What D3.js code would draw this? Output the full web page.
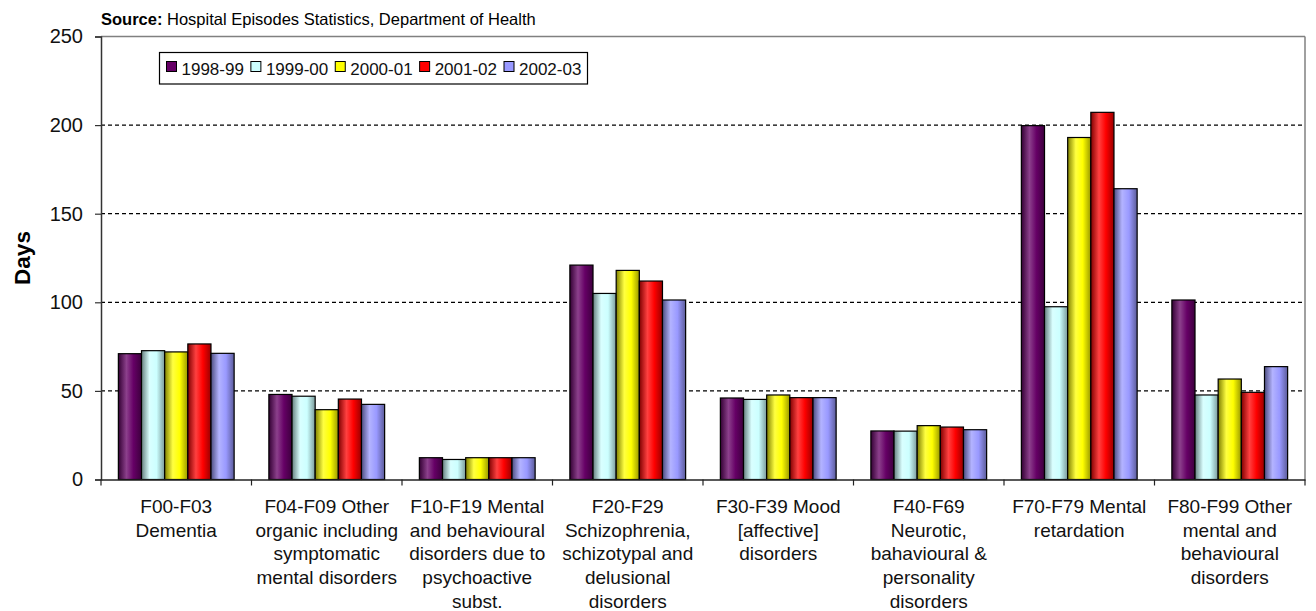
<!DOCTYPE html>
<html>
<head>
<meta charset="utf-8">
<script src="https://cdn.jsdelivr.net/npm/d3@7"></script>
<style>
  html, body { margin: 0; padding: 0; background: #fff; }
  svg { display: block; font-family: "Liberation Sans", Arial, sans-serif; }
</style>
</head>
<body>
<svg id="chart" width="1316" height="611"></svg>
<script>
// ---------- DATA ----------
const categories = [
  "F00-F03 Dementia",
  "F04-F09 Other organic including symptomatic mental disorders",
  "F10-F19 Mental and behavioural disorders due to psychoactive subst.",
  "F20-F29 Schizophrenia, schizotypal and delusional disorders",
  "F30-F39 Mood [affective] disorders",
  "F40-F69 Neurotic, bahavioural & personality disorders",
  "F70-F79 Mental retardation",
  "F80-F99 Other mental and behavioural disorders"
];
const categoryLines = [
  ["F00-F03", "Dementia"],
  ["F04-F09 Other", "organic including", "symptomatic", "mental disorders"],
  ["F10-F19 Mental", "and behavioural", "disorders due to", "psychoactive", "subst."],
  ["F20-F29", "Schizophrenia,", "schizotypal and", "delusional", "disorders"],
  ["F30-F39 Mood", "[affective]", "disorders"],
  ["F40-F69", "Neurotic,", "bahavioural &", "personality", "disorders"],
  ["F70-F79 Mental", "retardation"],
  ["F80-F99 Other", "mental and", "behavioural", "disorders"]
];
const seriesNames = ["1998-99", "1999-00", "2000-01", "2001-02", "2002-03"];
const values1998_99 = [71, 48, 12.3, 121, 46, 27.4, 199.7, 101.3];
const values1999_00 = [72.7, 47, 11.3, 105, 45.2, 27.3, 97.5, 47.7];
const values2000_01 = [72, 39.4, 12.3, 118, 47.7, 30.4, 193, 56.7];
const values2001_02 = [76.5, 45.4, 12.3, 112, 46.2, 29.6, 207.2, 49.2];
const values2002_03 = [71.2, 42.4, 12.3, 101.3, 46.2, 28.1, 164.1, 63.7];
const seriesValues = [values1998_99, values1999_00, values2000_01, values2001_02, values2002_03];
const seriesColors = ["#660066", "#CCFFFF", "#FFFF00", "#FF0000", "#9999FF"];
const yTicks = [0, 50, 100, 150, 200, 250];
const yTitle = "Days";
const sourceBold = "Source:";
const sourceText = " Hospital Episodes Statistics, Department of Health";

// ---------- LAYOUT ----------
const svg = d3.select("#chart");
const pLeft = 101, pRight = 1305, pTop = 36.5, pBottom = 479.5;

const x = d3.scaleBand().domain(categories).range([pLeft, pRight]).paddingInner(0).paddingOuter(0);
const bw = x.bandwidth();
const barW = bw / 6.5;
const xs = d3.scaleBand().domain(seriesNames)
  .range([(bw - 5 * barW) / 2, (bw + 5 * barW) / 2]).padding(0);
const y = d3.scaleLinear().domain([0, 250]).range([pBottom, pTop]);

// gradients
const defs = svg.append("defs");
seriesColors.forEach((c, i) => {
  const base = d3.rgb(c);
  const g = defs.append("linearGradient").attr("id", "grad" + i)
    .attr("x1", "0%").attr("x2", "100%").attr("y1", "0%").attr("y2", "0%");
  const dark = d3.rgb(base.r * 0.5, base.g * 0.5, base.b * 0.5);
  const dark2 = d3.rgb(base.r * 0.6, base.g * 0.6, base.b * 0.6);
  const light = d3.interpolateRgb(c, "#ffffff")(0.25);
  g.append("stop").attr("offset", "0%").attr("stop-color", dark);
  g.append("stop").attr("offset", "35%").attr("stop-color", light);
  g.append("stop").attr("offset", "65%").attr("stop-color", c);
  g.append("stop").attr("offset", "100%").attr("stop-color", dark2);
});

// plot border (top & right, gray)
svg.append("line").attr("x1", pLeft).attr("x2", pRight).attr("y1", pTop).attr("y2", pTop)
  .attr("stroke", "#808080").attr("stroke-width", 1.5);
svg.append("line").attr("x1", pRight).attr("x2", pRight).attr("y1", pTop).attr("y2", pBottom)
  .attr("stroke", "#808080").attr("stroke-width", 1.5);

// gridlines
svg.append("g").selectAll("line")
  .data(yTicks.filter(t => t > 0 && t < 250))
  .join("line")
  .attr("x1", pLeft).attr("x2", pRight)
  .attr("y1", d => y(d)).attr("y2", d => y(d))
  .attr("stroke", "#000").attr("stroke-width", 1.2)
  .attr("stroke-dasharray", "4,3");

// bars
const barG = svg.append("g");
seriesNames.forEach((s, si) => {
  barG.append("g").selectAll("rect")
    .data(seriesValues[si])
    .join("rect")
    .attr("x", (d, i) => x(categories[i]) + xs(s))
    .attr("y", d => y(d))
    .attr("width", xs.bandwidth())
    .attr("height", d => y(0) - y(d))
    .attr("fill", `url(#grad${si})`)
    .attr("stroke", "#000").attr("stroke-width", 1.2);
});

// y axis
const yAxis = d3.axisLeft(y).tickValues(yTicks).tickSize(6).tickPadding(12);
const yg = svg.append("g").attr("transform", `translate(${pLeft},0)`).call(yAxis);
yg.select(".domain").attr("stroke", "#333").attr("stroke-width", 1.5);
yg.selectAll(".tick line").attr("stroke", "#333").attr("stroke-width", 1.2);
yg.selectAll(".tick text").attr("font-size", "20px").attr("fill", "#111")
  .attr("font-family", "Liberation Sans, Arial, sans-serif");

// x axis
const xAxis = d3.axisBottom(x).tickSize(0).tickFormat(() => "");
const xg = svg.append("g").attr("transform", `translate(0,${pBottom})`).call(xAxis);
xg.select(".domain").attr("stroke", "#222").attr("stroke-width", 1.5);
const boundaries = categories.map(c => x(c)).concat([pRight]);
xg.selectAll(".bnd").data(boundaries).join("line").attr("class", "bnd")
  .attr("x1", d => d).attr("x2", d => d).attr("y1", 0).attr("y2", 6)
  .attr("stroke", "#222").attr("stroke-width", 1.2);

// category labels
const lblG = svg.append("g");
categories.forEach((c, i) => {
  const t = lblG.append("text")
    .attr("x", x(c) + bw / 2)
    .attr("y", 513)
    .attr("text-anchor", "middle")
    .attr("font-size", "19px")
    .attr("fill", "#111");
  categoryLines[i].forEach((ln, li) => {
    t.append("tspan").attr("x", x(c) + bw / 2).attr("dy", li === 0 ? 0 : 23.7).text(ln);
  });
});

// y title
svg.append("text")
  .attr("transform", `translate(30,${(pTop + pBottom) / 2}) rotate(-90)`)
  .attr("text-anchor", "middle")
  .attr("font-size", "22.5px").attr("font-weight", "bold")
  .attr("fill", "#000")
  .text(yTitle);

// source
const src = svg.append("text").attr("x", 101).attr("y", 25)
  .attr("font-size", "16.5px").attr("fill", "#000");
src.append("tspan").attr("font-weight", "bold").text(sourceBold);
src.append("tspan").text(sourceText);

// legend
const lg = svg.append("g");
lg.append("rect").attr("x", 159.5).attr("y", 52.5).attr("width", 428).attr("height", 31.5)
  .attr("fill", "#fff").attr("stroke", "#000").attr("stroke-width", 1.2);
const legendX = d3.scalePoint().domain(seriesNames).range([166.5, 504]);
seriesNames.forEach((s, i) => {
  const gx = legendX(s);
  lg.append("rect").attr("x", gx).attr("y", 61.5).attr("width", 10).attr("height", 10)
    .attr("fill", seriesColors[i]).attr("stroke", "#000").attr("stroke-width", 1);
  lg.append("text").attr("x", gx + 15).attr("y", 74.5)
    .attr("font-size", "17px").attr("fill", "#111").text(s);
});
</script>
</body>
</html>
